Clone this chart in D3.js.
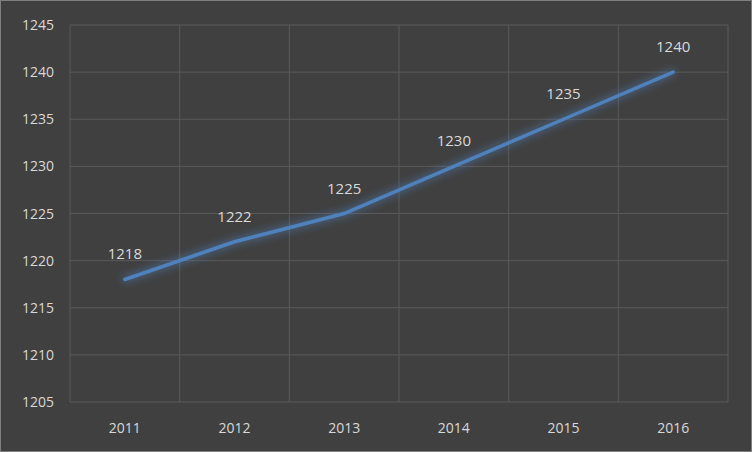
<!DOCTYPE html>
<html><head><meta charset="utf-8">
<script src="https://cdn.jsdelivr.net/npm/d3@7"></script>
<style>body{margin:0;background:#404040}</style>
</head><body>
<svg id="chart" width="752" height="452"></svg>
<script>
const years = ["2011","2012","2013","2014","2015","2016"];
const values = [1218,1222,1225,1230,1235,1240];
const yTicks = [1205,1210,1215,1220,1225,1230,1235,1240,1245];

const svg = d3.select("#chart");
svg.append("rect").attr("x",0.5).attr("y",0.5).attr("width",751).attr("height",451)
    .attr("fill","#404040").attr("stroke","#7f7f7f");

const x = d3.scaleBand().domain(years).range([70,728]);
const y = d3.scaleLinear().domain([1205,1245]).range([402,25]);

const defs = svg.append("defs");
const f = defs.append("filter").attr("id","glow").attr("x","-10%").attr("y","-50%").attr("width","120%").attr("height","200%");
f.append("feGaussianBlur").attr("stdDeviation",4).attr("result","b");
const m = f.append("feMerge");
m.append("feMergeNode").attr("in","b");
m.append("feMergeNode").attr("in","SourceGraphic");

// grid
svg.selectAll(".hg").data(yTicks).enter().append("line")
    .attr("x1",70).attr("x2",728).attr("y1",d=>y(d)).attr("y2",d=>y(d))
    .attr("stroke","#5a5a5a").attr("stroke-width",1);
const vlines = years.map(d=>x(d)).concat([728]);
svg.selectAll(".vg").data(vlines).enter().append("line")
    .attr("x1",d=>d).attr("x2",d=>d).attr("y1",25).attr("y2",402)
    .attr("stroke","#5a5a5a").attr("stroke-width",1);

const font = "'Open Sans', sans-serif";
svg.selectAll(".yl").data(yTicks).enter().append("text")
    .attr("x",54).attr("y",d=>y(d)+5).attr("text-anchor","end")
    .attr("fill","#d9d9d9").attr("font-family",font).attr("font-size",14).text(d=>d);
svg.selectAll(".xl").data(years).enter().append("text")
    .attr("x",d=>x(d)+x.bandwidth()/2).attr("y",433).attr("text-anchor","middle")
    .attr("fill","#d9d9d9").attr("font-family",font).attr("font-size",14).text(d=>d);

const line = d3.line().x((d,i)=>x(years[i])+x.bandwidth()/2).y(d=>y(d));
svg.append("path").datum(values).attr("d",line).attr("fill","none")
    .attr("stroke","#4f81bd").attr("stroke-width",3.5).attr("stroke-linecap","round")
    .attr("filter","url(#glow)");

svg.selectAll(".dl").data(values).enter().append("text")
    .attr("x",(d,i)=>x(years[i])+x.bandwidth()/2).attr("y",d=>y(d)-20)
    .attr("text-anchor","middle").attr("fill","#d9d9d9").attr("font-family",font)
    .attr("font-size",15).text(d=>d);
</script>
</body></html>
